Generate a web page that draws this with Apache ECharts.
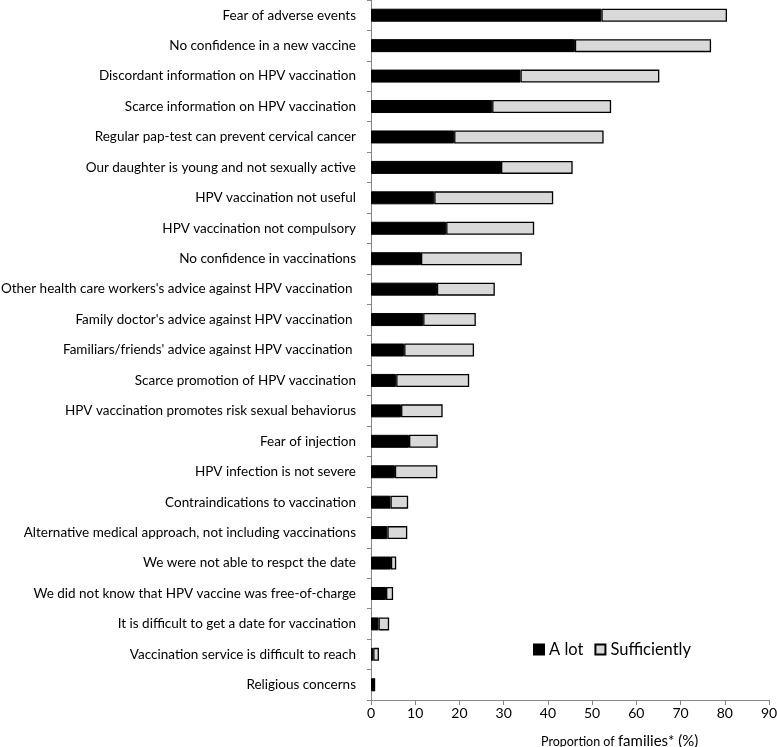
<!DOCTYPE html>
<html>
<head>
<meta charset="utf-8">
<script src="https://cdn.jsdelivr.net/npm/echarts@6/dist/echarts.min.js"></script>
<style>html,body{margin:0;padding:0;background:#fff}#c{width:777px;height:747px}</style>
</head>
<body>
<div id="c"></div>
<script>
const categories = [
  "Fear of adverse events",
  "No confidence in a new vaccine",
  "Discordant information on HPV vaccination",
  "Scarce information on HPV vaccination",
  "Regular pap-test can prevent cervical cancer",
  "Our daughter is young and not sexually active",
  "HPV vaccination not useful",
  "HPV vaccination not compulsory",
  "No confidence in vaccinations",
  "Other health care workers's advice against HPV vaccination ",
  "Family doctor's advice against HPV vaccination ",
  "Familiars/friends' advice against HPV vaccination ",
  "Scarce promotion of HPV vaccination",
  "HPV vaccination promotes risk sexual behaviorus",
  "Fear of injection",
  "HPV infection is not severe",
  "Contraindications to vaccination",
  "Alternative medical approach, not including vaccinations",
  "We were not able to respct the date",
  "We did not know that HPV vaccine was free-of-charge",
  "It is difficult to get a date for vaccination",
  "Vaccination service is difficult to reach",
  "Religious concerns"
];
const aLot = [52.1, 46.1, 33.8, 27.4, 18.8, 29.4, 14.3, 17.0, 11.3, 14.9, 11.8, 7.5, 5.7, 6.8, 8.6, 5.4, 4.4, 3.7, 4.5, 3.4, 1.7, 0.5, 0.8];
const sufficiently = [28.4, 30.8, 31.4, 26.9, 33.8, 16.2, 26.9, 19.9, 22.8, 13.1, 11.9, 15.8, 16.5, 9.4, 6.5, 9.6, 4.0, 4.5, 1.2, 1.6, 2.4, 1.3, 0];
const xTicks = {min: 0, max: 90, interval: 10};

const chart = echarts.init(document.getElementById('c'));
const FONT = 'Lato';
chart.setOption({
  animation: false,
  backgroundColor: '#fff',
  textStyle: {fontFamily: FONT},
  grid: {left: 371, right: 8, top: 0, bottom: 47, containLabel: false, outerBoundsMode: 'none'},
  legend: {
    left: 528, top: 636,
    itemWidth: 10, itemHeight: 10, itemGap: 11,
    icon: 'rect',
    textStyle: {fontFamily: FONT, fontSize: 16.5, color: '#000'},
    data: ['A lot', 'Sufficiently']
  },
  title: {
    left: 536, top: 729,
    text: '{a|Proportion of }{b|families* (%)}',
    textStyle: {
      fontWeight: 'normal',
      rich: {
        a: {fontFamily: FONT, fontSize: 12.5, color: '#000', fontWeight: 'normal'},
        b: {fontFamily: FONT, fontSize: 15, color: '#000', fontWeight: 'normal'}
      }
    }
  },
  xAxis: {
    type: 'value', min: xTicks.min, max: xTicks.max, interval: xTicks.interval,
    axisLine: {show: true, lineStyle: {color: '#868686', width: 1}},
    axisTick: {show: true, length: 5, lineStyle: {color: '#868686'}},
    axisLabel: {fontFamily: FONT, fontSize: 14, color: '#000', margin: 6},
    splitLine: {show: false}
  },
  yAxis: {
    type: 'category', data: categories, inverse: true,
    axisLine: {show: true, lineStyle: {color: '#868686', width: 1}},
    axisTick: {show: true, length: 4, lineStyle: {color: '#868686'}},
    axisLabel: {fontFamily: FONT, fontSize: 13.5, color: '#000', margin: 15}
  },
  series: [
    {
      name: 'A lot', type: 'bar', stack: 't', data: aLot, barWidth: 13,
      itemStyle: {color: '#000', borderColor: '#000', borderWidth: 1}
    },
    {
      name: 'Sufficiently', type: 'bar', stack: 't', data: sufficiently, barWidth: 13,
      itemStyle: {color: '#d9d9d9', borderColor: '#000', borderWidth: 1.3}
    }
  ]
});
</script>
</body>
</html>
